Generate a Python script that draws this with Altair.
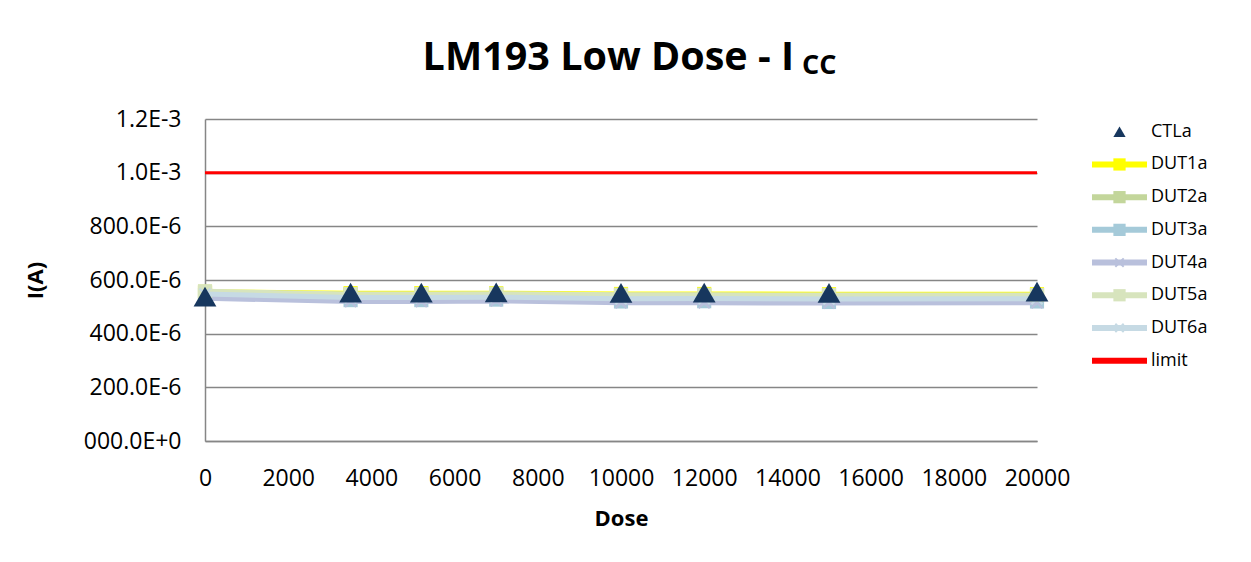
import altair as alt
import pandas as pd

# ---------------- data ----------------
DOSE = [0, 3500, 5200, 7000, 10000, 12000, 15000, 20000]
CTLA = [538e-6, 553e-6, 553e-6, 554e-6, 552e-6, 553e-6, 552e-6, 557e-6]
DUT1A = [556e-6, 551e-6, 551e-6, 551e-6, 548e-6, 548e-6, 547e-6, 547e-6]
DUT2A = [552e-6, 546e-6, 546e-6, 546e-6, 543e-6, 543e-6, 542e-6, 542e-6]
DUT3A = [545e-6, 525e-6, 525e-6, 527e-6, 520e-6, 521e-6, 518e-6, 520e-6]
DUT4A = [532e-6, 520e-6, 520e-6, 522e-6, 515e-6, 515e-6, 514e-6, 515e-6]
DUT5A = [558e-6, 548e-6, 548e-6, 549e-6, 545e-6, 545e-6, 544e-6, 544e-6]
DUT6A = [548e-6, 535e-6, 535e-6, 536e-6, 530e-6, 531e-6, 529e-6, 530e-6]
LIMIT_DOSE = [0, 20000]
LIMIT = [1.0e-3, 1.0e-3]

SERIES = ["CTLa", "DUT1a", "DUT2a", "DUT3a", "DUT4a", "DUT5a", "DUT6a", "limit"]
COLORS = ["#17375E", "#FFFF00", "#C3D69B", "#A5CAD9", "#B9C0DC", "#D7E4BD", "#C6DAE4", "#FF0000"]
MARKERS = ["triangle", "square", "square", "square", "x", "square", "x", "none"]

X_TICKS = [0, 2000, 4000, 6000, 8000, 10000, 12000, 14000, 16000, 18000, 20000]
Y_TICKS = [0, 0.0002, 0.0004, 0.0006, 0.0008, 0.0010, 0.0012]
Y_TICK_LABELS = ["000.0E+0", "200.0E-6", "400.0E-6", "600.0E-6", "800.0E-6", "1.0E-3", "1.2E-3"]

TITLE_MAIN = "LM193 Low Dose - I"
TITLE_SUB = "CC"
X_TITLE = "Dose"
Y_TITLE = "I(A)"

# ---------------- tables ----------------
dut_values = {"DUT1a": DUT1A, "DUT2a": DUT2A, "DUT3a": DUT3A, "DUT4a": DUT4A,
              "DUT5a": DUT5A, "DUT6a": DUT6A}
rows = []
for name, vals in dut_values.items():
    for d, v in zip(DOSE, vals):
        rows.append({"series": name, "dose": d, "value": v,
                     "marker": MARKERS[SERIES.index(name)]})
dut_df = pd.DataFrame(rows)
ctl_df = pd.DataFrame({"series": "CTLa", "dose": DOSE, "value": CTLA})
lim_df = pd.DataFrame({"series": "limit", "dose": LIMIT_DOSE, "value": LIMIT})
leg_df = pd.DataFrame({"series": SERIES, "idx": list(range(len(SERIES))), "marker": MARKERS})

FONT = "Open Sans"
GRAY = "#868686"
W, H = 832, 322

color_scale = alt.Scale(domain=SERIES, range=COLORS)
xs = alt.Scale(domain=[0, 20000], nice=False, zero=False)
ys = alt.Scale(domain=[0, 0.0012], nice=False)

label_expr = "[" + ",".join("'%s'" % s for s in Y_TICK_LABELS) + "][round(datum.value/0.0002)]"

x_enc = alt.X("dose:Q", scale=xs, title=X_TITLE,
              axis=alt.Axis(values=X_TICKS, format="d", grid=False, ticks=False, domainColor=GRAY,
                            domainWidth=1.5, labelFontSize=23, labelFont=FONT,
                            labelColor="black", labelPadding=26, labelFlush=False,
                            titleFont=FONT, titleFontSize=22, titleFontWeight="bold",
                            titleColor="black", titlePadding=18))
y_enc = alt.Y("value:Q", scale=ys, title=Y_TITLE,
              axis=alt.Axis(values=Y_TICKS, labelExpr=label_expr, grid=True,
                            gridColor=GRAY, gridWidth=1.5, ticks=False, domainColor=GRAY,
                            domainWidth=1.5, labelFontSize=23, labelFont=FONT,
                            labelColor="black", labelPadding=24,
                            titleFont=FONT, titleFontSize=22, titleFontWeight="bold",
                            titleColor="black", titlePadding=36))
c_enc = alt.Color("series:N", scale=color_scale, legend=None)

layers = []
for name in ["DUT1a", "DUT2a", "DUT3a", "DUT4a", "DUT5a", "DUT6a"]:
    sub = dut_df[dut_df.series == name]
    layers.append(alt.Chart(sub).mark_line(strokeWidth=5).encode(x=x_enc, y=y_enc, color=c_enc))
    if MARKERS[SERIES.index(name)] == "square":
        layers.append(alt.Chart(sub).mark_point(shape="square", filled=True, size=200, opacity=1)
                      .encode(x=x_enc, y=y_enc, color=c_enc))
    else:
        layers.append(alt.Chart(sub).mark_point(shape="M-1,-1L1,1M-1,1L1,-1", filled=False,
                                                size=120, strokeWidth=2, opacity=1)
                      .encode(x=x_enc, y=y_enc, color=c_enc))

layers.append(alt.Chart(lim_df).mark_line(strokeWidth=3).encode(x=x_enc, y=y_enc, color=c_enc))
layers.append(alt.Chart(ctl_df).mark_point(shape="triangle-up", filled=True, size=520, opacity=1)
              .encode(x=x_enc, y=y_enc, color=c_enc))

title_df = pd.DataFrame({"t": [TITLE_MAIN]})
sub_df = pd.DataFrame({"t": [TITLE_SUB]})
layers.append(alt.Chart(title_df).mark_text(font=FONT, fontSize=39.5, fontWeight="bold",
                                            align="right", baseline="alphabetic", color="black")
              .encode(text="t:N", x=alt.value(589), y=alt.value(-49)))
layers.append(alt.Chart(sub_df).mark_text(font=FONT, fontSize=27, fontWeight="bold",
                                          align="left", baseline="alphabetic", color="black")
              .encode(text="t:N", x=alt.value(597), y=alt.value(-45)))

main = alt.layer(*layers).properties(width=W, height=H)

# ---------------- legend panel ----------------
ly = alt.Y("idx:Q", scale=alt.Scale(domain=[-0.39, 9.457], reverse=True, nice=False, zero=False),
           axis=None)
lc = alt.Color("series:N", scale=color_scale, legend=None)
line_rows = leg_df[leg_df.marker != "triangle"]
leg_layers = [
    alt.Chart(line_rows).mark_rule(strokeWidth=6).encode(
        x=alt.value(3), x2=alt.value(58), y=ly, color=lc),
    alt.Chart(leg_df[leg_df.marker == "square"]).mark_point(
        shape="square", filled=True, size=150, opacity=1).encode(x=alt.value(30.5), y=ly, color=lc),
    alt.Chart(leg_df[leg_df.marker == "x"]).mark_point(
        shape="M-1,-1L1,1M-1,1L1,-1", filled=False, size=70, strokeWidth=2, opacity=1
    ).encode(x=alt.value(30.5), y=ly, color=lc),
    alt.Chart(leg_df[leg_df.marker == "triangle"]).mark_point(
        shape="triangle-up", filled=True, size=150, opacity=1).encode(x=alt.value(30.5), y=ly, color=lc),
    alt.Chart(leg_df).mark_text(font=FONT, fontSize=18, align="left", baseline="middle",
                                color="black").encode(x=alt.value(62), y=ly, text="series:N"),
]
legend = alt.layer(*leg_layers).properties(width=110, height=H)

chart = (alt.hconcat(main, legend, spacing=19)
         .properties(padding={"left": 16, "top": 30, "right": 0, "bottom": 12})
         .configure(background="white", view=alt.ViewConfig(stroke=None)))

chart.save("out.html", embed_options={"renderer": "svg", "actions": False})
